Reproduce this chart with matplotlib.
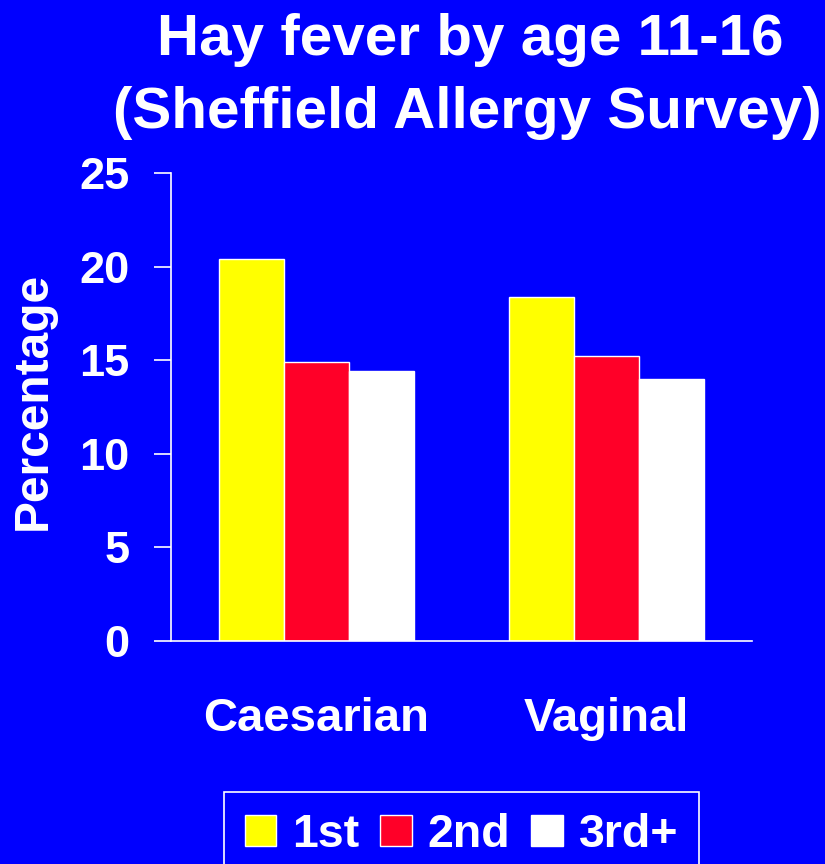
import matplotlib
matplotlib.use("Agg")
import matplotlib.pyplot as plt
from matplotlib.patches import Patch
import numpy as np

plt.rcParams['font.family'] = ['Liberation Sans', 'DejaVu Sans']
plt.rcParams['font.weight'] = 'bold'

categories = ["Caesarian", "Vaginal"]
series_names = ["1st", "2nd", "3rd+"]
first = [20.4, 18.4]
second = [14.9, 15.2]
third = [14.4, 14.0]
series_values = [first, second, third]
colors = ["#FFFF00", "#FF0028", "#FFFFFF"]
yticks = [0, 5, 10, 15, 20, 25]
title_lines = ["Hay fever by age 11-16", "(Sheffield Allergy Survey)"]
ylabel = "Percentage"

BG = "#0000FF"
fig = plt.figure(figsize=(8.25, 8.64), dpi=100, facecolor=BG)
ax = fig.add_axes([171/825, 1-641/864, 581/825, 468/864], facecolor=BG)

x = np.arange(len(categories))
w = 0.224
for i, (vals, col) in enumerate(zip(series_values, colors)):
    ax.bar(x + (i-1)*w, vals, width=w, color=col, edgecolor="white", linewidth=1.0,
           label=series_names[i], zorder=2)

ax.set_xlim(-0.5, 1.5)
ax.set_ylim(0, 25)
ax.set_yticks(yticks)
ax.set_yticklabels([str(t) for t in yticks])
ax.set_xticks(x)
ax.set_xticklabels(categories)

for s in ["top", "right"]:
    ax.spines[s].set_visible(False)
for s in ["left", "bottom"]:
    ax.spines[s].set_color("white")
    ax.spines[s].set_linewidth(1.2)

ax.tick_params(axis="y", colors="white", length=12.2, width=1.2, direction="out",
               pad=17.5, labelsize=32.5)
ax.tick_params(axis="x", colors="white", length=0, pad=40.5, labelsize=34)
for lab in ax.get_xticklabels() + ax.get_yticklabels():
    lab.set_fontweight("bold")

fig.text(33/825, 1-401/864, ylabel, rotation=90, ha="center", va="center",
         color="white", fontsize=34.5, fontweight="bold")

fig.text(470/825, 1-55/864, title_lines[0], ha="center", va="baseline",
         color="white", fontsize=42, fontweight="bold")
fig.text(467.5/825, 1-128.5/864, title_lines[1], ha="center", va="baseline",
         color="white", fontsize=42, fontweight="bold")

handles = [Patch(facecolor=c, edgecolor="white", linewidth=1.0) for c in colors]
leg = fig.legend(handles, series_names, loc="upper center",
                 bbox_to_anchor=(461.5/825, 1-792/864), ncol=3, frameon=True,
                 fancybox=False, borderaxespad=0,
                 handlelength=0.67, handleheight=0.67, handletextpad=0.35,
                 columnspacing=0.45, borderpad=0.45,
                 prop={"weight": "bold", "size": 33.5})
leg.get_frame().set_facecolor(BG)
leg.get_frame().set_edgecolor("white")
leg.get_frame().set_linewidth(1.2)
leg.get_frame().set_alpha(1)
for t in leg.get_texts():
    t.set_color("white")

fig.savefig("out.png", dpi=100, facecolor=BG)
